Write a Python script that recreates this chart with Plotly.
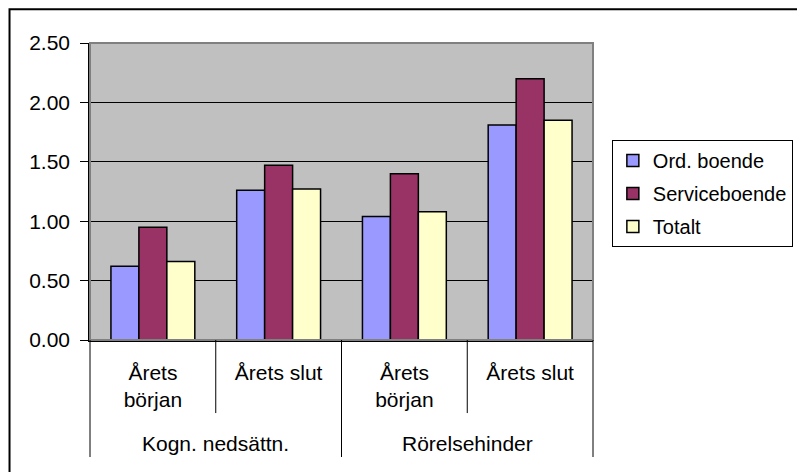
import plotly.graph_objects as go

groups = ["Kogn. nedsättn.", "Kogn. nedsättn.", "Rörelsehinder", "Rörelsehinder"]
periods = ["Årets<br>början", "Årets slut", "Årets<br>början", "Årets slut"]
cat_keys = [f"{g}|{p}" for g, p in zip(groups, periods)]
group_labels = ["Kogn. nedsättn.", "Rörelsehinder"]

series_names = ["Ord. boende", "Serviceboende", "Totalt"]
ord_boende = [0.62, 1.26, 1.04, 1.81]
serviceboende = [0.95, 1.47, 1.40, 2.20]
totalt = [0.66, 1.27, 1.08, 1.85]
series_values = [ord_boende, serviceboende, totalt]
series_colors = ["#9999FF", "#993366", "#FFFFCC"]

y_ticks = [0, 0.5, 1.0, 1.5, 2.0, 2.5]

FONT = "Liberation Sans, Arial, sans-serif"
FS = 21
LFS = 20

fig = go.Figure()
for name, vals, col in zip(series_names, series_values, series_colors):
    fig.add_trace(go.Bar(
        name=name, x=cat_keys, y=vals, legendgroup=name,
        marker=dict(color=col, line=dict(color="black", width=1.5)),
    ))

n = len(cat_keys)
shapes = []
# plot-area frame (gray top/right)
shapes.append(dict(type="rect", xref="paper", yref="paper", x0=0, x1=1, y0=0, y1=1,
                   line=dict(color="#808080", width=2), layer="above"))
# dividers between categories (longer ones between groups)
for k in range(n + 1):
    is_outer = k == 0 or k == n or groups[k - 1] != groups[k]
    shapes.append(dict(type="line", xref="paper", yref="paper",
                       x0=k / n, x1=k / n, y0=0, y1=-0.394 if is_outer else -0.246,
                       line=dict(color="black", width=1)))
# outer figure border
shapes.append(dict(type="rect", xref="paper", yref="paper",
                   x0=-0.160, x1=2, y0=-1, y1=1.114,
                   line=dict(color="black", width=2)))

annotations = []
for gl in group_labels:
    idx = [i for i, g in enumerate(groups) if g == gl]
    xc = (min(idx) + max(idx) + 1) / 2 / n
    annotations.append(dict(text=gl, x=xc, y=-0.347, xref="paper", yref="paper",
                            showarrow=False, xanchor="center", yanchor="middle",
                            font=dict(family=FONT, size=FS, color="black")))

fig.update_layout(
    width=797, height=464,
    margin=dict(l=82, r=209, t=35, b=132),
    paper_bgcolor="white", plot_bgcolor="#C0C0C0",
    barmode="group", bargap=0.333, bargroupgap=0,
    font=dict(family=FONT, size=FS, color="black"),
    shapes=shapes, annotations=annotations,
    legend=dict(x=1.0375, y=0.673, xanchor="left", yanchor="top",
                bordercolor="black", borderwidth=1, bgcolor="white",
                font=dict(family=FONT, size=LFS, color="black"),
                tracegroupgap=4, itemclick=False),
    xaxis=dict(type="category", tickvals=cat_keys, ticktext=periods,
               range=[-0.5, n - 0.5], showgrid=False, ticks="",
               showline=True, linecolor="black", linewidth=1.5,
               ticklabelstandoff=13, tickfont=dict(family=FONT, size=FS, color="black")),
    yaxis=dict(range=[0, 2.5], tickvals=y_ticks, tickformat=".2f",
               showgrid=True, gridcolor="black", gridwidth=1,
               ticks="outside", ticklen=8, tickcolor="black",
               showline=True, linecolor="black", linewidth=1.5,
               zeroline=False, ticklabelstandoff=6,
               tickfont=dict(family=FONT, size=FS, color="black")),
    showlegend=True,
)

fig.write_html("out.html")
